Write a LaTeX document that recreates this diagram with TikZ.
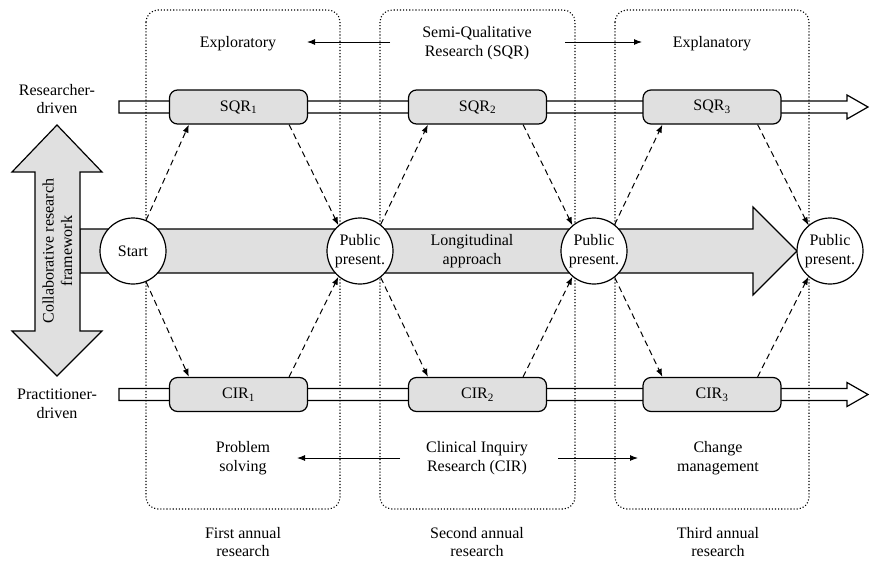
\documentclass[tikz,border=0pt]{standalone}
\usepackage{fontspec}
\setmainfont{Liberation Serif}
\usetikzlibrary{arrows.meta,calc}
\definecolor{fillgray}{HTML}{E0E0E0}
\begin{document}
\begin{tikzpicture}[x=1pt,y=-1pt,
  font=\fontsize{16}{18.5}\selectfont,
  phase/.style={draw, line width=1.1pt, dash pattern=on 1.1pt off 2pt, rounded corners=12pt},
  stage/.style={draw, line width=1.2pt, fill=fillgray, rounded corners=8pt, minimum width=138pt, minimum height=34pt, inner sep=0pt},
  pres/.style={draw, circle, line width=1.2pt, fill=white, minimum size=66pt, inner sep=0pt, align=center, font=\fontsize{16}{19}\selectfont},
  lbl/.style={align=center, inner sep=0pt},
  link/.style={line width=1pt, dash pattern=on 6pt off 4pt, -{Latex[length=8pt,width=6pt]}},
  dirarrow/.style={line width=1pt, -{Latex[length=8pt,width=6pt]}},
  tube/.style={draw, line width=1.2pt, fill=white},
  bigarrow/.style={draw, line width=1.2pt, fill=fillgray}]
\useasboundingbox (0,0) rectangle (886,560);

% tubes
\draw[tube] (119,101) -- (847,101) -- (847,95) -- (868,107) -- (847,119) -- (847,113) -- (119,113) -- cycle;
\draw[tube] (119,388.5) -- (847,388.5) -- (847,382.5) -- (868,394.5) -- (847,406.5) -- (847,400.5) -- (119,400.5) -- cycle;

% central arrow
\draw[bigarrow] (80,229) -- (753,229) -- (753,207) -- (797,251) -- (753,295) -- (753,273) -- (80,273) -- cycle;

% vertical double arrow
\draw[bigarrow] (57,125) -- (102,172) -- (80,172) -- (80,331) -- (102,331) -- (57,376) -- (12,331) -- (35,331) -- (35,172) -- (12,172) -- cycle;
\node[lbl, rotate=90] (collab) at (57.5,251) {Collaborative research\\framework};

% phases
\draw[phase] (146,10) rectangle (340,509);
\draw[phase] (380,10) rectangle (575,509);
\draw[phase] (615,10) rectangle (809,509);

% stage boxes
\node[stage] (sqr1) at (238.5,107) {SQR\textsubscript{1}};
\node[stage] (sqr2) at (477.5,107) {SQR\textsubscript{2}};
\node[stage] (sqr3) at (712,107) {SQR\textsubscript{3}};
\node[stage] (cir1) at (238.5,394.5) {CIR\textsubscript{1}};
\node[stage] (cir2) at (477.5,394.5) {CIR\textsubscript{2}};
\node[stage] (cir3) at (712,394.5) {CIR\textsubscript{3}};

% circles
\node[pres] (start) at (133,251) {Start};
\node[pres] (pub1) at (360,251) {Public\\present.};
\node[pres] (pub2) at (594,251) {Public\\present.};
\node[pres] (pub3) at (830,251) {Public\\present.};

\node[lbl] (long) at (472,251) {Longitudinal\\approach};

% dashed links
\draw[link] (start.67) -- ([xshift=20pt]sqr1.south west);
\draw[link] ([xshift=-19pt]sqr1.south east) -- (pub1.130);
\draw[link] (pub1.52) -- ([xshift=20pt]sqr2.south west);
\draw[link] ([xshift=-24pt]sqr2.south east) -- (pub2.130);
\draw[link] (pub2.52) -- ([xshift=20pt]sqr3.south west);
\draw[link] ([xshift=-24pt]sqr3.south east) -- (pub3.130);
\draw[link] (start.-67) -- ([xshift=20pt]cir1.north west);
\draw[link] ([xshift=-19pt]cir1.north east) -- (pub1.-130);
\draw[link] (pub1.-52) -- ([xshift=20pt]cir2.north west);
\draw[link] ([xshift=-24pt]cir2.north east) -- (pub2.-130);
\draw[link] (pub2.-52) -- ([xshift=20pt]cir3.north west);
\draw[link] ([xshift=-24pt]cir3.north east) -- (pub3.-130);

% left labels
\node[lbl] (resdrv) at (57,99) {Researcher-\\driven};
\node[lbl] (pracdrv) at (57,404) {Practitioner-\\driven};

% top labels
\node[lbl] (explo) at (238,44) {Exploratory};
\node[lbl] (sqrlbl) at (477,43) {Semi-Qualitative\\Research (SQR)};
\node[lbl] (expla) at (712,44) {Explanatory};
\coordinate (tl1) at (390,42);
\coordinate (tl2) at (307,42);
\coordinate (tr1) at (565,42);
\coordinate (tr2) at (642,42);
\draw[dirarrow] (tl1) -- (tl2);
\draw[dirarrow] (tr1) -- (tr2);

% bottom labels
\node[lbl] (prob) at (243,458) {Problem\\solving};
\node[lbl] (cirlbl) at (477,458) {Clinical Inquiry\\Research (CIR)};
\node[lbl] (chg) at (718,458) {Change\\management};
\coordinate (bl1) at (400,458);
\coordinate (bl2) at (297,458);
\coordinate (br1) at (558,458);
\coordinate (br2) at (638,458);
\draw[dirarrow] (bl1) -- (bl2);
\draw[dirarrow] (br1) -- (br2);

\node[lbl] (yr1) at (243,542) {First annual\\research};
\node[lbl] (yr2) at (477,542) {Second annual\\research};
\node[lbl] (yr3) at (718,542) {Third annual\\research};
\end{tikzpicture}
\end{document}
